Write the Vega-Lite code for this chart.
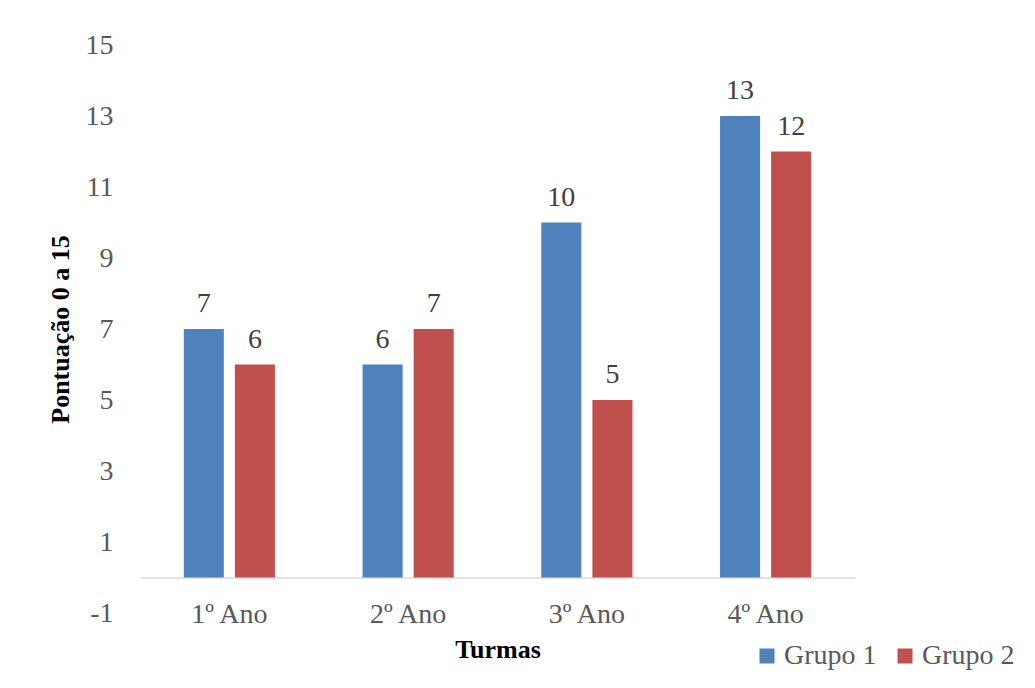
{
  "$schema": "https://vega.github.io/schema/vega-lite/v6.json",
  "width": 715,
  "height": 568,
  "autosize": {"type": "none"},
  "padding": {"left": 140, "top": 45, "right": 180, "bottom": 75},
  "background": "white",
  "config": {
    "view": {"stroke": null},
    "font": "Liberation Serif",
    "axis": {"labelFont": "Liberation Serif", "titleFont": "Liberation Serif"},
    "legend": {"labelFont": "Liberation Serif"}
  },
  "data": {
    "values": [
      {"Turma": "1º Ano", "Grupo": "Grupo 1", "valor": 7},
      {"Turma": "1º Ano", "Grupo": "Grupo 2", "valor": 6},
      {"Turma": "2º Ano", "Grupo": "Grupo 1", "valor": 6},
      {"Turma": "2º Ano", "Grupo": "Grupo 2", "valor": 7},
      {"Turma": "3º Ano", "Grupo": "Grupo 1", "valor": 10},
      {"Turma": "3º Ano", "Grupo": "Grupo 2", "valor": 5},
      {"Turma": "4º Ano", "Grupo": "Grupo 1", "valor": 13},
      {"Turma": "4º Ano", "Grupo": "Grupo 2", "valor": 12}
    ]
  },
  "encoding": {
    "x": {
      "field": "Turma",
      "type": "nominal",
      "sort": null,
      "scale": {"paddingInner": 0.49, "paddingOuter": 0.245},
      "axis": {
        "title": "Turmas",
        "titleFontSize": 26,
        "titleFontWeight": "bold",
        "titleColor": "#000000",
        "titlePadding": 8,
        "labelAngle": 0,
        "labelFontSize": 28,
        "labelColor": "#595959",
        "labelPadding": 23,
        "ticks": false,
        "domainColor": "#d9d9d9",
        "domainWidth": 1.5,
        "offset": -35.5
      }
    },
    "xOffset": {"field": "Grupo", "type": "nominal", "scale": {"paddingInner": 0.216, "paddingOuter": 0}},
    "y": {
      "field": "valor",
      "type": "quantitative",
      "scale": {"domain": [-1, 15], "nice": false, "zero": false},
      "axis": {
        "title": "Pontuação 0 a 15",
        "titleFontSize": 26,
        "titleFontWeight": "bold",
        "titleColor": "#000000",
        "titlePadding": 12,
        "values": [-1, 1, 3, 5, 7, 9, 11, 13, 15],
        "labelExpr": "'' + datum.value",
        "labelFontSize": 28,
        "labelColor": "#595959",
        "labelPadding": 27,
        "ticks": false,
        "domain": false,
        "grid": false
      }
    }
  },
  "layer": [
    {
      "mark": {"type": "bar"},
      "encoding": {
        "y2": {"datum": 0},
        "color": {
          "field": "Grupo",
          "type": "nominal",
          "scale": {"domain": ["Grupo 1", "Grupo 2"], "range": ["#4F81BD", "#C0504D"]},
          "legend": {
            "title": null,
            "orient": "none",
            "direction": "horizontal",
            "legendX": 613,
            "legendY": 597,
            "padding": 0,
            "symbolType": "square",
            "symbolSize": 225,
            "symbolStrokeWidth": 0,
            "symbolOpacity": 1,
            "labelFontSize": 28,
            "labelColor": "#595959",
            "labelOffset": 3,
            "columnPadding": 14
          }
        }
      }
    },
    {
      "mark": {"type": "text", "baseline": "alphabetic", "dy": -17, "fontSize": 28, "color": "#404040", "font": "Liberation Serif"},
      "encoding": {
        "text": {"field": "valor", "type": "quantitative"}
      }
    }
  ]
}
